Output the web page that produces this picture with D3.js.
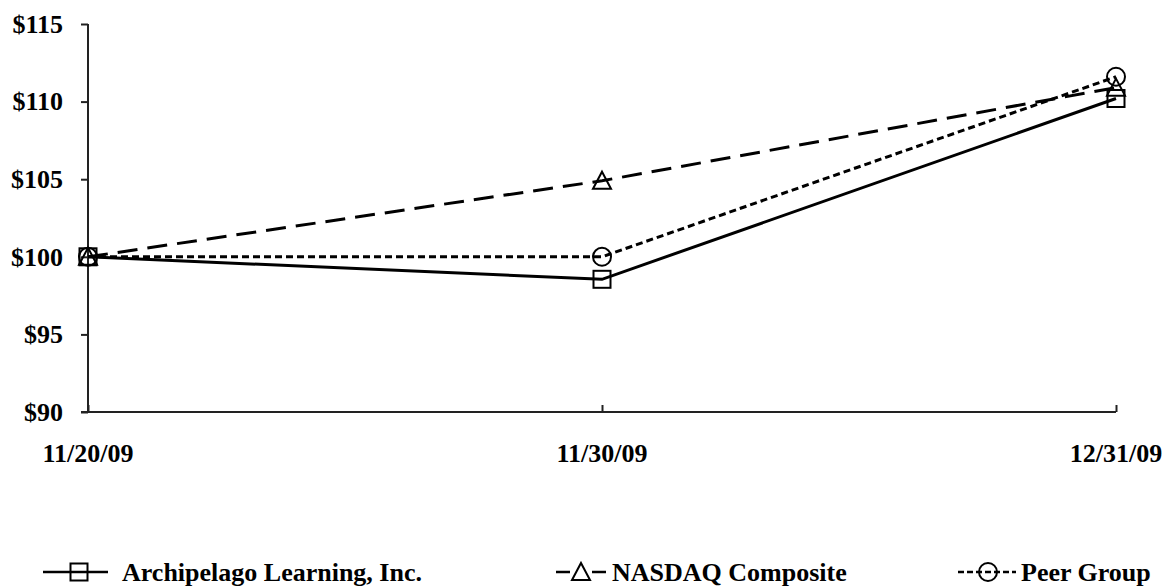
<!DOCTYPE html>
<html><head><meta charset="utf-8">
<script src="https://cdn.jsdelivr.net/npm/d3@7"></script>
<style>
html,body{margin:0;padding:0;background:#fff;}
text{font-family:"Liberation Serif","Times New Roman",serif;font-weight:bold;fill:#000;}
</style></head>
<body><svg id="c" width="1165" height="586"></svg>
<script>
const dates = ["11/20/09","11/30/09","12/31/09"];
const archipelago = [100, 98.55, 110.2];
const nasdaq = [100, 104.9, 110.9];
const peer = [100, 100, 111.6];
const yTicks = [90, 95, 100, 105, 110, 115];
const seriesNames = ["Archipelago Learning, Inc.", "NASDAQ Composite", "Peer Group"];

const svg = d3.select("#c");
const x = d3.scalePoint().domain(dates).range([88, 1116]);
const y = d3.scaleLinear().domain([90, 115]).range([412, 24]);
const FS = 26;

// y axis
const yAxis = svg.append("g").attr("transform","translate(88,0)")
  .call(d3.axisLeft(y).tickValues(yTicks).tickSize(7).tickPadding(18).tickFormat(d => "$" + d));
yAxis.select(".domain").attr("stroke","#222").attr("stroke-width",2).attr("d","M0,24V412");
yAxis.selectAll(".tick line").attr("stroke","#222").attr("stroke-width",2);
yAxis.selectAll("text").attr("font-size",FS).style("font-family","Liberation Serif").style("font-weight","bold").attr("fill","#000");

// x axis
const xAxis = svg.append("g").attr("transform","translate(0,412)")
  .call(d3.axisBottom(x).tickSize(-7).tickPadding(0).tickFormat(""));
xAxis.select(".domain").attr("stroke","#222").attr("stroke-width",2).attr("d","M81,0H1116");
xAxis.selectAll(".tick line").attr("stroke","#222").attr("stroke-width",2);
svg.append("g").selectAll("text").data(dates).join("text")
  .attr("x", d => x(d)).attr("y", 462).attr("text-anchor","middle")
  .attr("font-size",FS).text(d => d);

const series = [
  {name: seriesNames[0], vals: archipelago, dash: null, marker: "square"},
  {name: seriesNames[1], vals: nasdaq, dash: "20,10", marker: "triangle"},
  {name: seriesNames[2], vals: peer, dash: "7,4", marker: "circle"}
];

function drawMarker(g, type, cx, cy) {
  if (type === "square") {
    g.append("rect").attr("x", cx-8.5).attr("y", cy-8.5).attr("width",17).attr("height",17)
      .attr("fill","none").attr("stroke","#000").attr("stroke-width",2);
  } else if (type === "triangle") {
    g.append("path").attr("d", `M${cx},${cy-9}L${cx+9},${cy+8}L${cx-9},${cy+8}Z`)
      .attr("fill","none").attr("stroke","#000").attr("stroke-width",2);
  } else {
    g.append("circle").attr("cx",cx).attr("cy",cy).attr("r",9)
      .attr("fill","none").attr("stroke","#000").attr("stroke-width",2);
  }
}

const line = d3.line().x((d,i) => x(dates[i])).y(d => y(d));
series.forEach(s => {
  svg.append("path").datum(s.vals).attr("d", line)
    .attr("fill","none").attr("stroke","#000").attr("stroke-width",3)
    .attr("stroke-dasharray", s.dash);
});
series.forEach(s => {
  const g = svg.append("g");
  s.vals.forEach((v,i) => drawMarker(g, s.marker, x(dates[i]), y(v)));
});

// legend
const legendPos = [
  {x0: 43, x1: 108, mx: 79, tx: 122, dash: null},
  {x0: 556, x1: 606, mx: 581, tx: 612, dash: "14,22,14"},
  {x0: 958, x1: 1016, mx: 988, tx: 1021, dash: "6,3"}
];
const ly = 572;
series.forEach((s,i) => {
  const p = legendPos[i];
  const g = svg.append("g");
  g.append("line").attr("x1",p.x0).attr("x2",p.x1).attr("y1",ly).attr("y2",ly)
    .attr("stroke","#000").attr("stroke-width",2.5)
    .attr("stroke-dasharray", p.dash);
  drawMarker(g, s.marker, p.mx, ly);
  g.append("text").attr("x",p.tx).attr("y",ly+9).attr("font-size",FS).text(s.name);
});
</script></body></html>
